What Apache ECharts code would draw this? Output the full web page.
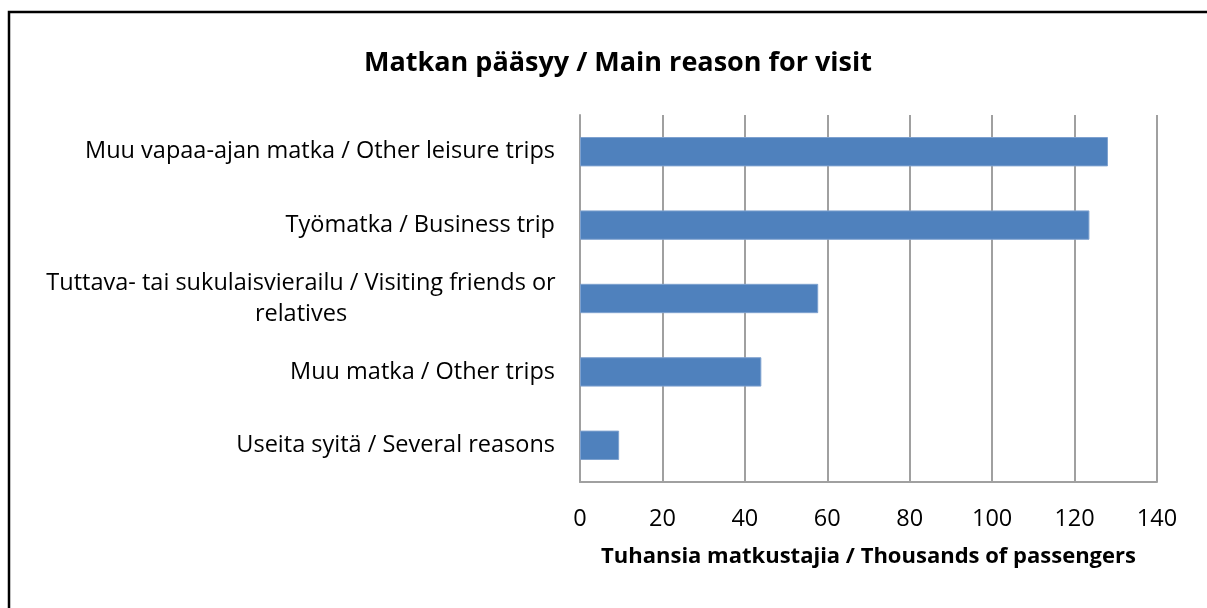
<!DOCTYPE html>
<html>
<head>
<meta charset="utf-8">
<script src="https://cdn.jsdelivr.net/npm/echarts@6/dist/echarts.min.js"></script>
<style>
html,body{margin:0;padding:0;background:#fff;}
#chart{width:1207px;height:608px;}
</style>
</head>
<body>
<div id="chart"></div>
<script>
const categories = [
  "Useita syitä / Several reasons",
  "Muu matka / Other trips",
  "Tuttava- tai sukulaisvierailu / Visiting friends or\nrelatives",
  "Työmatka / Business trip",
  "Muu vapaa-ajan matka / Other leisure trips"
];
const values = [9.5, 44, 57.8, 123.6, 128.1];
const xTicks = [0, 20, 40, 60, 80, 100, 120, 140];
const titleText = "Matkan pääsyy / Main reason for visit";
const xAxisName = "Tuhansia matkustajia / Thousands of passengers";

const FONT = "Open Sans";
const chart = echarts.init(document.getElementById('chart'), null, {renderer: 'canvas'});
chart.setOption({
  backgroundColor: '#fff',
  animation: false,
  title: {
    text: titleText,
    left: 613,
    textAlign: 'center',
    top: 45,
    textStyle: {fontFamily: FONT, fontWeight: 'bold', fontSize: 27, color: '#000'}
  },
  grid: {left: 580, right: 50, top: 115, bottom: 126, containLabel: false, outerBoundsMode: 'none'},
  xAxis: {
    type: 'value',
    min: xTicks[0],
    max: xTicks[xTicks.length - 1],
    interval: xTicks[1] - xTicks[0],
    name: xAxisName,
    nameLocation: 'middle',
    nameGap: 64,
    nameTextStyle: {fontFamily: FONT, fontWeight: 'bold', fontSize: 22, color: '#000'},
    axisLine: {show: true, lineStyle: {color: '#a0a0a0', width: 2}},
    axisTick: {show: false},
    axisLabel: {fontFamily: FONT, fontSize: 23.5, color: '#000', margin: 25},
    splitLine: {show: true, lineStyle: {color: '#a0a0a0', width: 2}}
  },
  yAxis: {
    type: 'category',
    data: categories,
    axisLine: {show: true, lineStyle: {color: '#a0a0a0', width: 2}},
    axisTick: {show: false},
    axisLabel: {
      fontFamily: FONT, fontSize: 23.5, color: '#000', margin: 25, lineHeight: 31,
      formatter: function (v) {
        if (v.indexOf('\n') >= 0) {
          const parts = v.split('\n');
          return '{a|' + parts[0] + '}\n{b|' + parts[1] + '}';
        }
        return v;
      },
      rich: {
        a: {fontFamily: FONT, fontSize: 23.5, color: '#000', width: 508, align: 'center', lineHeight: 31},
        b: {fontFamily: FONT, fontSize: 23.5, color: '#000', width: 508, align: 'center', lineHeight: 31}
      }
    }
  },
  series: [{
    type: 'bar',
    data: values,
    barCategoryGap: '60%',
    itemStyle: {color: '#4f81bd', borderColor: '#7ea1cf', borderWidth: 1},
    silent: true
  }],
  graphic: [{
    type: 'polyline',
    shape: {points: [[9, 608], [9, 12], [1207, 12]]},
    style: {stroke: '#000', lineWidth: 2.5, fill: null}
  }]
});
</script>
</body>
</html>
